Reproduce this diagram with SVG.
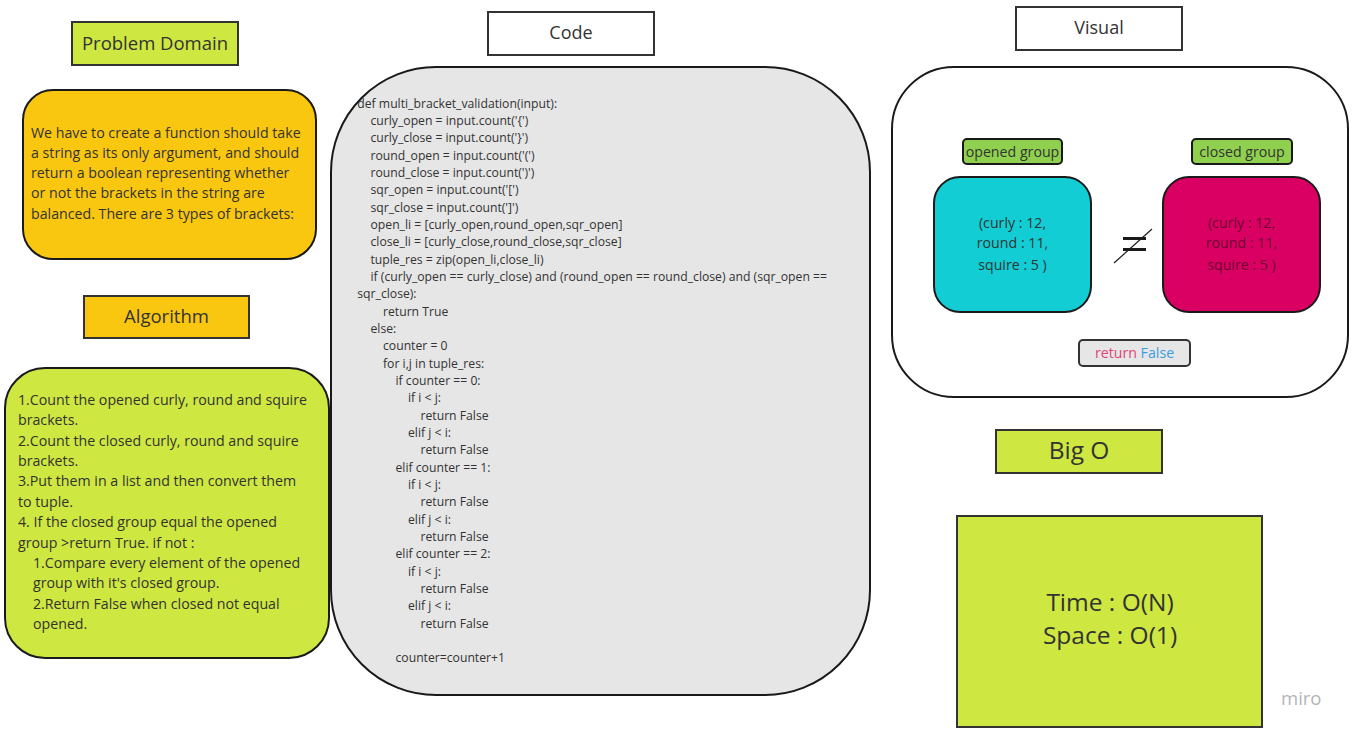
<svg xmlns="http://www.w3.org/2000/svg" width="1355" height="737" viewBox="0 0 1355 737">
<style>
text{font-family:"Open Sans","Noto Sans","Liberation Sans",sans-serif;fill:#333}
.title{stroke:#333;stroke-width:2}
.lime{fill:#cee741}
.amber{fill:#fac710}
.card{stroke:#1a1a1a;stroke-width:2}
.t14{font-size:14.2px}
.code{font-size:12.2px}
.mid{text-anchor:middle}
</style>
<rect width="1355" height="737" fill="#ffffff"/>

<g id="problem-domain-title">
<rect class="title lime" x="72" y="22" width="166" height="43"/>
<text class="mid" x="155" y="49.5" font-size="18.5">Problem Domain</text>
</g>

<g id="problem-domain">
<rect class="card amber" x="23" y="90" width="293" height="169" rx="30"/>
<text class="t14" x="31" y="137.5">We have to create a function should take</text>
<text class="t14" x="31" y="157.8">a string as its only argument, and should</text>
<text class="t14" x="31" y="178">return a boolean representing whether</text>
<text class="t14" x="31" y="198.3">or not the brackets in the string are</text>
<text class="t14" x="31" y="218.5">balanced. There are 3 types of brackets:</text>
</g>

<g id="algorithm-title">
<rect class="title amber" x="84" y="296" width="165" height="42"/>
<text class="mid" x="166.5" y="322.5" font-size="18.5">Algorithm</text>
</g>

<g id="algorithm">
<rect class="card lime" x="5" y="368" width="324" height="290" rx="40"/>
<text class="t14" x="18" y="405">1.Count the opened curly, round and squire</text>
<text class="t14" x="18" y="425.4">brackets.</text>
<text class="t14" x="18" y="445.7">2.Count the closed curly, round and squire</text>
<text class="t14" x="18" y="466.1">brackets.</text>
<text class="t14" x="18" y="486.4">3.Put them in a list and then convert them</text>
<text class="t14" x="18" y="506.8">to tuple.</text>
<text class="t14" x="18" y="527.2">4. If the closed group equal the opened</text>
<text class="t14" x="18" y="547.5">group &gt;return True. if not :</text>
<text class="t14" x="33" y="567.9">1.Compare every element of the opened</text>
<text class="t14" x="33" y="588.2">group with it's closed group.</text>
<text class="t14" x="33" y="608.6">2.Return False when closed not equal</text>
<text class="t14" x="33" y="629">opened.</text>
</g>

<g id="code-title">
<rect class="title" fill="#ffffff" x="488" y="12" width="166" height="43"/>
<text class="mid" x="571" y="39" font-size="18">Code</text>
</g>

<g id="code">
<rect class="card" fill="#e6e6e6" x="331" y="67" width="539" height="628" rx="105"/>
<text class="code" x="357.3" y="107.5">def multi_bracket_validation(input):</text>
<text class="code" x="370.5" y="124.8">curly_open = input.count('{')</text>
<text class="code" x="370.5" y="142.2">curly_close = input.count('}')</text>
<text class="code" x="370.5" y="159.5">round_open = input.count('(')</text>
<text class="code" x="370.5" y="176.9">round_close = input.count(')')</text>
<text class="code" x="370.5" y="194.2">sqr_open = input.count('[')</text>
<text class="code" x="370.5" y="211.5">sqr_close = input.count(']')</text>
<text class="code" x="370.5" y="228.9">open_li = [curly_open,round_open,sqr_open]</text>
<text class="code" x="370.5" y="246.2">close_li = [curly_close,round_close,sqr_close]</text>
<text class="code" x="370.5" y="263.6">tuple_res = zip(open_li,close_li)</text>
<text class="code" x="370.5" y="280.9">if (curly_open == curly_close) and (round_open == round_close) and (sqr_open ==</text>
<text class="code" x="357.3" y="298.2">sqr_close):</text>
<text class="code" x="383" y="315.6">return True</text>
<text class="code" x="370.5" y="332.9">else:</text>
<text class="code" x="383" y="350.3">counter = 0</text>
<text class="code" x="383" y="367.6">for i,j in tuple_res:</text>
<text class="code" x="395.5" y="384.9">if counter == 0:</text>
<text class="code" x="408" y="402.3">if i &lt; j:</text>
<text class="code" x="420.5" y="419.6">return False</text>
<text class="code" x="408" y="437">elif j &lt; i:</text>
<text class="code" x="420.5" y="454.3">return False</text>
<text class="code" x="395.5" y="471.6">elif counter == 1:</text>
<text class="code" x="408" y="489">if i &lt; j:</text>
<text class="code" x="420.5" y="506.3">return False</text>
<text class="code" x="408" y="523.7">elif j &lt; i:</text>
<text class="code" x="420.5" y="541">return False</text>
<text class="code" x="395.5" y="558.3">elif counter == 2:</text>
<text class="code" x="408" y="575.7">if i &lt; j:</text>
<text class="code" x="420.5" y="593">return False</text>
<text class="code" x="408" y="610.4">elif j &lt; i:</text>
<text class="code" x="420.5" y="627.7">return False</text>
<text class="code" x="395.5" y="662.4">counter=counter+1</text>
</g>

<g id="visual-title">
<rect class="title" fill="#ffffff" x="1016" y="7" width="166" height="43"/>
<text class="mid" x="1099" y="33.5" font-size="18">Visual</text>
</g>

<g id="visual">
<rect class="card" fill="#ffffff" x="892" y="67" width="456" height="330" rx="62"/>
</g>

<g id="opened-label">
<rect x="963" y="139" width="99" height="25" rx="4" fill="#8fd14f" stroke="#1a1a1a" stroke-width="2"/>
<text class="mid t14" x="1012.5" y="156.5">opened group</text>
</g>

<g id="closed-label">
<rect x="1192" y="139" width="100" height="25" rx="4" fill="#8fd14f" stroke="#1a1a1a" stroke-width="2"/>
<text class="mid t14" x="1242" y="156.5">closed group</text>
</g>

<g id="opened-group">
<rect class="card" fill="#12cdd4" x="934" y="177" width="157" height="135" rx="26"/>
<text class="mid t14" x="1012.5" y="228">(curly : 12,</text>
<text class="mid t14" x="1012.5" y="248">round : 11,</text>
<text class="mid t14" x="1012.5" y="269.5">squire : 5 )</text>
</g>

<g id="closed-group">
<rect class="card" fill="#da0063" x="1163" y="177" width="157" height="135" rx="26"/>
<text class="mid t14" x="1241.5" y="228" style="fill:#6d0031">(curly : 12,</text>
<text class="mid t14" x="1241.5" y="248" style="fill:#6d0031">round : 11,</text>
<text class="mid t14" x="1241.5" y="269.5" style="fill:#6d0031">squire : 5 )</text>
</g>

<g id="not-equal">
<rect x="1123" y="237" width="23" height="3" fill="#1a1a1a"/>
<rect x="1123" y="248" width="23" height="3" fill="#1a1a1a"/>
<line x1="1114" y1="263" x2="1152" y2="229" stroke="#1a1a1a" stroke-width="1.2"/>
</g>

<g id="return-false">
<rect x="1079" y="340" width="111" height="26" rx="4" fill="#e6e6e6" stroke="#333" stroke-width="2"/>
<text class="mid t14" x="1134.5" y="358"><tspan style="fill:#e0447b">return</tspan> <tspan style="fill:#3a9de0">False</tspan></text>
</g>

<g id="big-o-title">
<rect class="title lime" x="996" y="430" width="166" height="43"/>
<text class="mid" x="1079" y="459" font-size="24.5">Big O</text>
</g>

<g id="big-o">
<rect class="title lime" x="957" y="516" width="305" height="211"/>
<text class="mid" x="1110" y="611" font-size="24.5">Time : O(N)</text>
<text class="mid" x="1110" y="644" font-size="24.5">Space : O(1)</text>
</g>

<g id="connectors"></g>

<text x="1281" y="705" font-size="18.5" style="fill:#b4b4bb">miro</text>
</svg>
